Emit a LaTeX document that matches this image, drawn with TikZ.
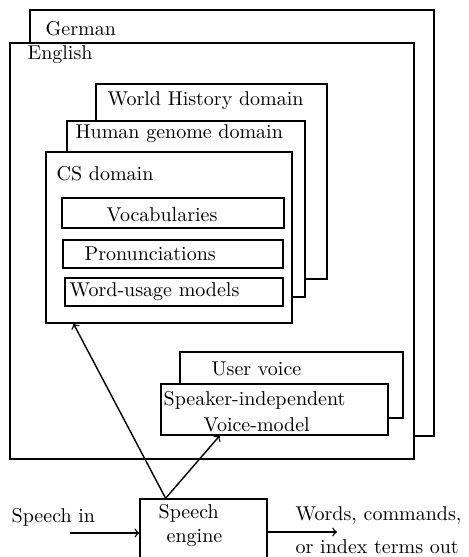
\documentclass[tikz,border=0pt]{standalone}
\usetikzlibrary{fit,calc}
\begin{document}
\begin{tikzpicture}[x=0.5pt, y=-0.5pt, >=to, line width=0.7pt]

    \tikzset{box/.style={draw, fill=white, inner sep=0pt},
        lbl/.style={anchor=base west, inner sep=0pt}}

    \useasboundingbox (0,0) rectangle (468,557);
    \clip (0,0) rectangle (468,557);

    % language layers
    \node[box, fit={(30,10) (434,436)}] (german) {};
    \node[lbl] (germanlbl) at (45,35) {German};
    \node[box, fit={(10,43) (414,459)}] (english) {};
    \node[lbl] (englishlbl) at (27,59.5) {English};

    % domain layers
    \node[box, fit={(96,84) (327,279)}] (history) {};
    \node[lbl] (historylbl) at (107,105) {World History domain};
    \node[box, fit={(67,121) (305,297)}] (genome) {};
    \node[lbl] (genomelbl) at (75,138) {Human genome domain};
    \node[box, fit={(46,152) (292,323)}] (cs) {};
    \node[lbl] (cslbl) at (56,180) {CS domain};

    % contents of a domain
    \node[box, fit={(62,198) (284,228)}] (vocab) {};
    \node[lbl] (vocablbl) at (106,221) {Vocabularies};
    \node[box, fit={(63,240) (283,268)}] (pron) {};
    \node[lbl] (pronlbl) at (84,260) {Pronunciations};
    \node[box, fit={(65,278) (283,306)}] (usage) {};
    \node[lbl] (usagelbl) at (69,296) {Word-usage models};

    % voice models
    \node[box, fit={(180,352) (403,418)}] (uservoice) {};
    \node[lbl] (uservoicelbl) at (211,375) {User voice};
    \node[box, fit={(161,384) (388,435)}] (spkind) {};
    \node[lbl] (spkindlbl) at (163,405) {Speaker-independent};
    \node[lbl] (voicelbl) at (203,431) {Voice-model};

    % engine
    \node[box, fit={(140,499) (267,580)}] (engine) {};
    \node[lbl] (enginelbl1) at (158,518) {Speech};
    \node[lbl] (enginelbl2) at (166,542) {engine};

    \node[lbl] (inlbl) at (11,522) {Speech in};
    \node[lbl] (outlbl1) at (295,520) {Words, commands,};
    \node[lbl] (outlbl2) at (295,553) {or index terms out};

    \coordinate (in) at (70,533);
    \coordinate (out) at (337,532);
    \coordinate (tap) at ($(engine.north west)!0.205!(engine.north east)$);

    \draw[->] (in) -- (in -| engine.west);
    \draw[->] (engine.east |- out) -- (out);
    \draw[->] (tap) -- ($(cs.south west)!0.114!(cs.south east)$);
    \draw[->] (tap) -- ($(spkind.south west)!0.26!(spkind.south east)$);

\end{tikzpicture}
\end{document}
